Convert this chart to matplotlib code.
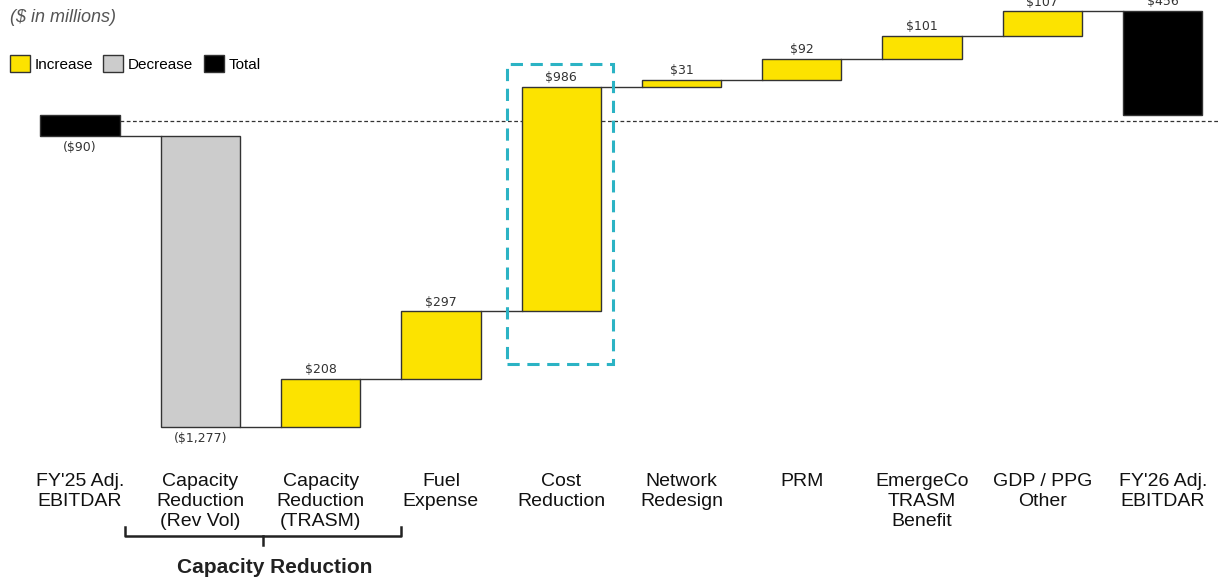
import matplotlib
matplotlib.use('Agg')
import matplotlib.pyplot as plt
from matplotlib.patches import Patch, Rectangle

# Data ($ in millions)
categories = ["FY'25 Adj.\nEBITDAR", "Capacity\nReduction\n(Rev Vol)", "Capacity\nReduction\n(TRASM)",
              "Fuel\nExpense", "Cost\nReduction", "Network\nRedesign", "PRM",
              "EmergeCo\nTRASM\nBenefit", "GDP / PPG\nOther", "FY'26 Adj.\nEBITDAR"]
values = [-90, -1277, 208, 297, 986, 31, 92, 101, 107, 456]
kinds = ['total', 'dec', 'inc', 'inc', 'inc', 'inc', 'inc', 'inc', 'inc', 'total']
labels = ['($90)', '($1,277)', '$208', '$297', '$986', '$31', '$92', '$101', '$107', '$456']

colors = {'inc': '#FCE300', 'dec': '#CCCCCC', 'total': '#000000'}

plt.rcParams['font.family'] = ['Liberation Sans', 'DejaVu Sans']

fig = plt.figure(figsize=(12.19, 5.8), dpi=100)
ax = fig.add_axes([0, 0.2414, 1, 0.7586])
ax.set_xlim(-0.665, 9.468)
ax.set_ylim(-1426, 504.6)
for s in ax.spines.values():
    s.set_visible(False)
ax.set_yticks([])

width = 0.66
level = 0
tops = []
for i, (v, k) in enumerate(zip(values, kinds)):
    if k == 'total':
        bottom = 0
        end = v
    else:
        bottom = level
        end = level + v
    ax.bar(i, v, bottom=bottom, width=width, color=colors[k], edgecolor='#333333', linewidth=1, zorder=3)
    top = max(bottom, end)
    low = min(bottom, end)
    if v < 0:
        ax.annotate(labels[i], (i, low), xytext=(0, -4), textcoords='offset points',
                    ha='center', va='top', fontsize=9, family='DejaVu Sans', color='#333333')
    else:
        ax.annotate(labels[i], (i, top), xytext=(0, 2), textcoords='offset points',
                    ha='center', va='bottom', fontsize=9, family='DejaVu Sans', color='#333333')
    tops.append(end)
    level = end

# connectors
for i in range(len(values) - 1):
    y = tops[i]
    if kinds[i + 1] == 'total':
        y = values[i + 1]
    ax.plot([i + width / 2, i + 1 - width / 2], [y, y], color='#333333', linewidth=1, zorder=2)

# reference dashed line
ax.axhline(-25, xmin=(0.33 + 0.665) / 10.133, color='#333333', linestyle=(0, (3, 2)), linewidth=0.9, zorder=1)

# highlight box around Cost Reduction
ax.add_patch(Rectangle((3.55, -1093), 0.88, 1317, fill=False, edgecolor='#2BB3C4',
                       linewidth=2.2, linestyle=(0, (4, 2.5)), zorder=4))

ax.set_xticks(range(len(categories)))
ax.set_xticklabels(categories, fontsize=14, color='#111111', linespacing=1.2)
ax.tick_params(axis='x', length=0, pad=24)

# bracket for capacity reduction
yb = -1846
ax.plot([0.37, 0.37, 2.67, 2.67], [yb + 40, yb, yb, yb + 40], color='#222222', linewidth=1.8, clip_on=False)
ax.plot([1.52, 1.52], [yb, yb - 40], color='#222222', linewidth=1.8, clip_on=False)
ax.text(1.62, yb - 140, 'Capacity Reduction', ha='center', va='center', fontsize=15,
        fontweight='bold', color='#222222')

fig.text(0.008, 0.97, '($ in millions)', ha='left', va='center', fontsize=13,
         style='italic', color='#555555')

handles = [Patch(facecolor=colors['inc'], edgecolor='#333333', label='Increase'),
           Patch(facecolor=colors['dec'], edgecolor='#333333', label='Decrease'),
           Patch(facecolor=colors['total'], edgecolor='#333333', label='Total')]
fig.legend(handles=handles, loc='center left', bbox_to_anchor=(0.003, 0.89), ncol=3, frameon=False,
           fontsize=11, handlelength=1.3, handleheight=1.3, handletextpad=0.3, columnspacing=0.7,
           borderaxespad=0)

fig.savefig('out.png', dpi=100)
